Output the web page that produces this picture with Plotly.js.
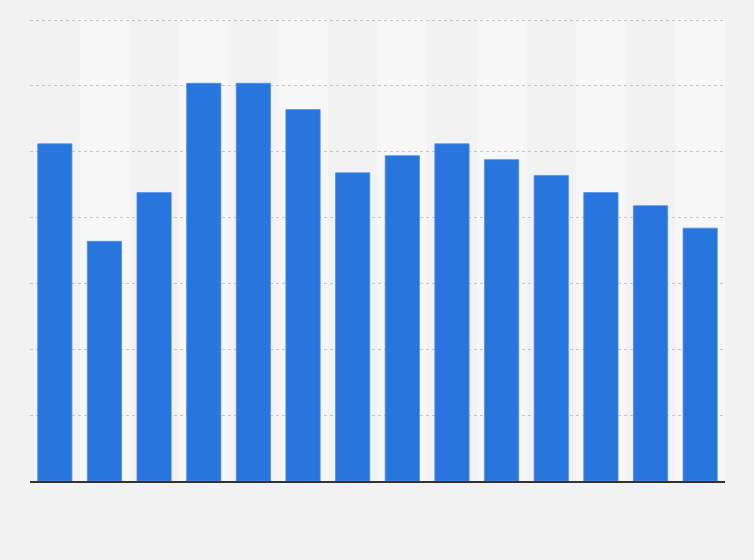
<!DOCTYPE html>
<html>
<head>
<meta charset="utf-8">
<script src="https://cdn.plot.ly/plotly-3.0.1.min.js"></script>
<style>
  html, body { margin: 0; padding: 0; background: #f2f2f2; }
  #chart { width: 754px; height: 560px; }
</style>
</head>
<body>
<div id="chart"></div>
<script>
// categories (labels are hidden in the reference)
const categories = ['2008', '2009', '2010', '2011', '2012', '2013', '2014',
                    '2015', '2016', '2017', '2018', '2019', '2020', '2021'];
// values
const values = [25.6, 18.2, 21.9, 30.2, 30.2, 28.2, 23.4,
                24.7, 25.6, 24.4, 23.2, 21.9, 20.9, 19.2];
const yMax = 35;
const yStep = 5;

// alternating column bands, one per category
const bands = [];
categories.forEach((c, i) => {
  if (i % 2 === 1) {
    bands.push({
      type: 'rect', xref: 'x', yref: 'paper',
      x0: i - 0.5, x1: i + 0.5, y0: 0, y1: 1,
      fillcolor: '#f7f7f7', line: { width: 0 }, layer: 'below'
    });
  }
});

const trace = {
  type: 'bar',
  x: categories,
  y: values,
  marker: { color: '#2876dd', line: { color: '#4f8fe6', width: 0.8 } },
  hoverinfo: 'x+y'
};

const layout = {
  width: 754,
  height: 560,
  margin: { l: 30, r: 29, t: 19, b: 79 },
  paper_bgcolor: '#f2f2f2',
  plot_bgcolor: '#f2f2f2',
  showlegend: false,
  bargap: 0.31,
  shapes: bands,
  xaxis: {
    type: 'category',
    showticklabels: false,
    showgrid: false,
    ticks: '',
    showline: true,
    linecolor: '#333333',
    linewidth: 1.5,
    zeroline: false
  },
  yaxis: {
    range: [0, yMax + 0.08],
    dtick: yStep,
    showticklabels: false,
    showgrid: true,
    gridcolor: '#c4c4c4',
    gridwidth: 1,
    griddash: 'dot',
    zeroline: false,
    ticks: ''
  }
};

Plotly.newPlot('chart', [trace], layout, { displayModeBar: false, staticPlot: true });
</script>
</body>
</html>
